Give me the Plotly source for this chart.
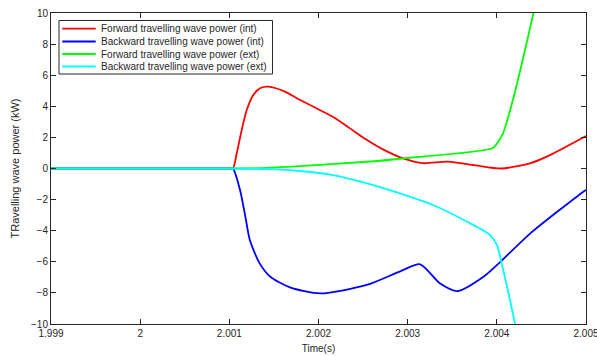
import plotly.graph_objects as go

# Forward travelling wave power (int)
t_fwd_int = [1.999, 2.001, 2.00104, 2.001083, 2.001139, 2.001195, 2.001269, 2.001344, 2.001437, 2.001624,
             2.00179, 2.00216, 2.002353, 2.002544, 2.002723, 2.002948, 2.003172, 2.00345, 2.00376, 2.00405,
             2.00437, 2.00456, 2.005]
p_fwd_int = [0, 0, 0, 0.98, 2.48, 3.76, 4.73, 5.16, 5.26, 4.94,
             4.42, 3.33, 2.58, 1.83, 1.23, 0.65, 0.34, 0.44, 0.2, 0.0,
             0.33, 0.76, 2.09]

# Backward travelling wave power (int)
t_bwd_int = [1.999, 2.001, 2.00104, 2.00112, 2.00118, 2.00123, 2.00134, 2.00146, 2.00168, 2.00202,
             2.00254, 2.00291, 2.00314, 2.00336, 2.00356, 2.00385, 2.00404, 2.00437, 2.00497, 2.005]
p_bwd_int = [0, 0, 0, -1.38, -3.1, -4.6, -6.1, -6.96, -7.64, -8.03,
             -7.49, -6.63, -6.16, -7.38, -7.88, -6.96, -6.0, -4.2, -1.49, -1.38]

# Forward travelling wave power (ext)
t_fwd_ext = [1.999, 2.001, 2.00134, 2.00179, 2.00258, 2.00297, 2.00395, 2.0040, 2.00407, 2.00418,
             2.00429, 2.00441, 2.00448]
p_fwd_ext = [0, 0, 0.02, 0.15, 0.45, 0.66, 1.3, 1.6, 2.26, 4.4,
             6.98, 10, 12]

# Backward travelling wave power (ext)
t_bwd_ext = [1.999, 2.001, 2.00146, 2.00179, 2.00216, 2.002544, 2.002914, 2.003284, 2.003666, 2.003924,
             2.004002, 2.004058, 2.004148, 2.004215]
p_bwd_ext = [0, 0, -0.04, -0.16, -0.42, -0.95, -1.6, -2.35, -3.42, -4.28,
             -4.92, -6.2, -8.46, -10.3]

x_ticks = [1.999, 2.0, 2.001, 2.002, 2.003, 2.004, 2.005]
x_tick_labels = ["1.999", "2", "2.001", "2.002", "2.003", "2.004", "2.005"]
y_ticks = [-10, -8, -6, -4, -2, 0, 2, 4, 6, 8, 10]

series = [
    ("Forward travelling wave power (int)", t_fwd_int, p_fwd_int, "#ff0000"),
    ("Backward travelling wave power (int)", t_bwd_int, p_bwd_int, "#0000ff"),
    ("Forward travelling wave power (ext)", t_fwd_ext, p_fwd_ext, "#00ff00"),
    ("Backward travelling wave power (ext)", t_bwd_ext, p_bwd_ext, "#00ffff"),
]

W, H = 597, 356
ML, MR, MT, MB = 51, 11, 13, 32
FONT = "Arial, Liberation Sans, sans-serif"
TXT = "#262626"

fig = go.Figure()
for name, t, p, c in series:
    fig.add_trace(go.Scatter(x=t, y=p, mode="lines", name=name, showlegend=False,
                             line=dict(color=c, width=1.8, shape="spline", smoothing=0.7)))

axis_common = dict(showline=True, linecolor=TXT, linewidth=1, mirror="ticks",
                   ticks="inside", ticklen=5, tickcolor=TXT, showgrid=False,
                   zeroline=False, tickfont=dict(family=FONT, size=10, color=TXT),
                   ticklabeloverflow="allow", automargin=False)

fig.update_xaxes(range=[1.999, 2.005], tickvals=x_ticks, ticktext=x_tick_labels,
                 title=dict(text="Time(s)", font=dict(family=FONT, size=10, color=TXT), standoff=6),
                 **axis_common)
fig.update_yaxes(range=[-10, 10], tickvals=y_ticks,
                 title=dict(text="TRavelling wave power (kW)", font=dict(family=FONT, size=11, color=TXT), standoff=9),
                 **axis_common)

# Legend box: pixel positions converted to plot-area (paper) fractions
PW, PH = W - ML - MR, H - MT - MB

def px(x):
    return (x - ML) / PW

def py(y):
    return (H - MB - y) / PH

shapes = [dict(type="rect", xref="paper", yref="paper", x0=px(59), x1=px(272.5), y0=py(74), y1=py(20.5),
               line=dict(color=TXT, width=1), fillcolor="white", layer="above")]
annotations = []
row_y = [28.7, 41.5, 54.0, 66.5]
for (name, _, _, c), ry in zip(series, row_y):
    shapes.append(dict(type="line", xref="paper", yref="paper", x0=px(62.3), x1=px(95.7),
                       y0=py(ry), y1=py(ry), line=dict(color=c, width=1.8), layer="above"))
    annotations.append(dict(xref="paper", yref="paper", x=px(98.5), y=py(ry), text=name,
                            showarrow=False, xanchor="left", yanchor="middle",
                            font=dict(family=FONT, size=10, color=TXT)))

fig.update_layout(
    width=W, height=H,
    margin=dict(l=ML, r=MR, t=MT, b=MB, autoexpand=False),
    plot_bgcolor="white", paper_bgcolor="white",
    shapes=shapes, annotations=annotations,
    showlegend=False,
)

fig.write_html("out.html")
